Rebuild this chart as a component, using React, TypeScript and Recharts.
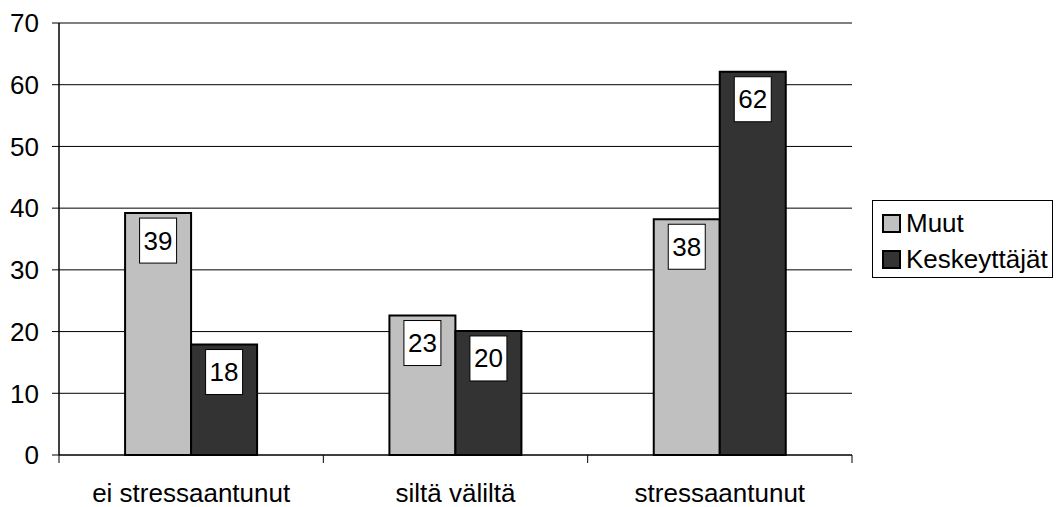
import React from 'react';
import { BarChart, Bar, XAxis, YAxis, CartesianGrid, Legend, LabelList } from 'recharts';

const categories = ['ei stressaantunut', 'siltä väliltä', 'stressaantunut'];
const muut = [39.2, 22.6, 38.2];
const keskeyttajat = [17.9, 20.1, 62.1];
const yTicks = [0, 10, 20, 30, 40, 50, 60, 70];
const seriesNames = ['Muut', 'Keskeyttäjät'];

const data = categories.map((c, i) => ({ name: c, Muut: muut[i], Keskeyttajat: keskeyttajat[i] }));

const FONT = '"Liberation Sans", Arial, sans-serif';
const FS = 26;

const renderLabel = (props: any) => {
  const x = Number(props.x);
  const y = Number(props.y);
  const width = Number(props.width);
  const cx = x + width / 2;
  const w = 37;
  const h = 45;
  return (
    <g>
      <rect x={cx - w / 2} y={y + 5} width={w} height={h} fill="#fff" stroke="#000" strokeWidth={1} />
      <text x={cx} y={y + 5 + h / 2} textAnchor="middle" dominantBaseline="central" fontSize={FS} fontFamily={FONT} fill="#000">
        {Math.round(Number(props.value))}
      </text>
    </g>
  );
};

const XTick = (props: any) => {
  const { x, y, payload, index } = props;
  const half = payload && payload.offset ? payload.offset : 132.2;
  const last = index === categories.length - 1;
  return (
    <g>
      <line x1={x - half} x2={x - half} y1={y} y2={y + 8} stroke="#000" strokeWidth={1} />
      {last && <line x1={x + half} x2={x + half} y1={y} y2={y + 8} stroke="#000" strokeWidth={1} />}
      <text x={x} y={y + 47} textAnchor="middle" fontSize={FS} fontFamily={FONT} fill="#000">
        {payload.value}
      </text>
    </g>
  );
};

const renderLegend = (props: any) => {
  const payload = [...(props.payload || [])].sort(
    (a: any, b: any) => seriesNames.indexOf(a.value) - seriesNames.indexOf(b.value)
  );
  return (
    <div
      style={{
        boxSizing: 'border-box',
        width: 181,
        height: 78,
        border: '1px solid #000',
        background: '#fff',
        paddingTop: 4,
        fontFamily: FONT,
        fontSize: FS,
        lineHeight: '36px',
      }}
    >
      {payload.map((p: any) => (
        <div key={p.value} style={{ display: 'flex', alignItems: 'center', height: 36, paddingLeft: 9 }}>
          <svg width={19} height={19} style={{ marginRight: 5 }}>
            <rect x={1} y={1} width={17} height={17} fill={p.color} stroke="#000" strokeWidth={2} />
          </svg>
          <span style={{ color: '#000' }}>{p.value}</span>
        </div>
      ))}
    </div>
  );
};

export default function App() {
  return (
    <div style={{ position: 'absolute', left: 0, top: 0, width: 1057, height: 507, background: '#fff' }}>
      <BarChart
        width={1057}
        height={507}
        data={data}
        margin={{ top: 23, right: 205, bottom: 0, left: 0 }}
        barCategoryGap="25%"
        barGap={0}
      >
        <CartesianGrid horizontal={true} vertical={false} stroke="#000" strokeWidth={1} />
        <XAxis
          dataKey="name"
          height={52}
          tickLine={false}
          tickSize={0}
          tickMargin={0}
          axisLine={{ stroke: '#000', strokeWidth: 1 }}
          tick={<XTick />}
          interval={0}
        />
        <YAxis
          width={59}
          domain={[0, 70]}
          ticks={yTicks}
          interval={0}
          tickSize={7}
          tickMargin={13}
          tickLine={{ stroke: '#000' }}
          axisLine={{ stroke: '#000', strokeWidth: 1.5 }}
          tick={{ fontSize: FS, fontFamily: FONT, fill: '#000' }}
        />
        <YAxis
          yAxisId="right"
          orientation="right"
          width={0}
          tick={false}
          tickLine={false}
          axisLine={{ stroke: '#808080', strokeWidth: 2 }}
        />
        <Legend
          layout="horizontal"
          align="center"
          verticalAlign="middle"
          content={renderLegend}
          wrapperStyle={{ position: 'absolute', left: 872, top: 200, width: 181, height: 78 }}
        />
        <Bar dataKey="Muut" name="Muut" fill="#C0C0C0" stroke="#000" strokeWidth={2} isAnimationActive={false}>
          <LabelList dataKey="Muut" content={renderLabel} />
        </Bar>
        <Bar dataKey="Keskeyttajat" name="Keskeyttäjät" fill="#333333" stroke="#000" strokeWidth={2} isAnimationActive={false}>
          <LabelList dataKey="Keskeyttajat" content={renderLabel} />
        </Bar>
      </BarChart>
    </div>
  );
}
